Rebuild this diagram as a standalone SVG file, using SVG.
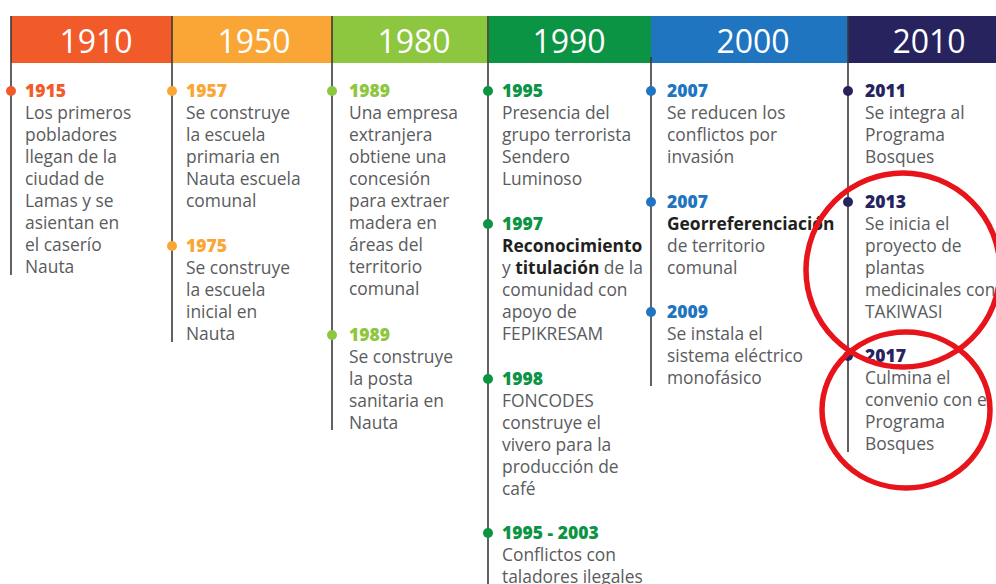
<svg xmlns="http://www.w3.org/2000/svg" width="996" height="584" viewBox="0 0 996 584">
<style>
.hd{font-family:"Open Sans","Liberation Sans",sans-serif;font-size:32px;fill:#fff;text-anchor:middle}
.yr{font-family:"Open Sans","Liberation Sans",sans-serif;font-size:17.5px;font-weight:800}
.tx{font-family:"Open Sans","Liberation Sans",sans-serif;font-size:17.4px;fill:#5a5b5d}
.b{font-weight:700;fill:#231f20}
.ln{stroke:#3a3a3a;stroke-width:1.6;fill:none}
.c1{fill:#f15a29}.c2{fill:#f9a636}.c3{fill:#8dc63f}.c4{fill:#0b9444}.c5{fill:#1f75c0}.c6{fill:#26235f}
.ring{fill:none;stroke:#e8141b;stroke-width:5.5}
</style>
<rect width="996" height="584" fill="#fff"/>
<g id="header">
<rect x="11" y="16" width="161" height="47" class="c1"/>
<rect x="172" y="16" width="160" height="47" class="c2"/>
<rect x="332" y="16" width="157" height="47" class="c3"/>
<rect x="489" y="16" width="162" height="47" class="c4"/>
<rect x="651" y="16" width="197" height="47" class="c5"/>
<rect x="848" y="16" width="148" height="47" class="c6"/>
<text class="hd" x="96" y="53">1910</text>
<text class="hd" x="254" y="53">1950</text>
<text class="hd" x="414" y="53">1980</text>
<text class="hd" x="569" y="53">1990</text>
<text class="hd" x="753" y="53">2000</text>
<text class="hd" x="929" y="53">2010</text>
</g>
<g id="connectors">
<line class="ln" x1="11" y1="16" x2="11" y2="275"/>
<line class="ln" x1="172" y1="16" x2="172" y2="342"/>
<line class="ln" x1="332" y1="16" x2="332" y2="430"/>
<line class="ln" x1="488" y1="16" x2="488" y2="584"/>
<line class="ln" x1="651" y1="57" x2="651" y2="386"/>
<line class="ln" x1="848" y1="16" x2="848" y2="452"/>
</g>
<g id="e1915">
<circle cx="11" cy="91" r="5" class="c1"/>
<text class="yr c1" x="25" y="97">1915</text>
<text class="tx" x="25" y="119">Los primeros</text>
<text class="tx" x="25" y="141">pobladores</text>
<text class="tx" x="25" y="163">llegan de la</text>
<text class="tx" x="25" y="185">ciudad de</text>
<text class="tx" x="25" y="207">Lamas y se</text>
<text class="tx" x="25" y="229">asientan en</text>
<text class="tx" x="25" y="251">el caserío</text>
<text class="tx" x="25" y="273">Nauta</text>
</g>
<g id="e1957">
<circle cx="172" cy="91" r="5" class="c2"/>
<text class="yr c2" x="186" y="97">1957</text>
<text class="tx" x="186" y="119">Se construye</text>
<text class="tx" x="186" y="141">la escuela</text>
<text class="tx" x="186" y="163">primaria en</text>
<text class="tx" x="186" y="185">Nauta escuela</text>
<text class="tx" x="186" y="207">comunal</text>
</g>
<g id="e1975">
<circle cx="172" cy="246" r="5" class="c2"/>
<text class="yr c2" x="186" y="252">1975</text>
<text class="tx" x="186" y="274">Se construye</text>
<text class="tx" x="186" y="296">la escuela</text>
<text class="tx" x="186" y="318">inicial en</text>
<text class="tx" x="186" y="340">Nauta</text>
</g>
<g id="e1989a">
<circle cx="332" cy="91" r="5" class="c3"/>
<text class="yr c3" x="349" y="97">1989</text>
<text class="tx" x="349" y="119">Una empresa</text>
<text class="tx" x="349" y="141">extranjera</text>
<text class="tx" x="349" y="163">obtiene una</text>
<text class="tx" x="349" y="185">concesión</text>
<text class="tx" x="349" y="207">para extraer</text>
<text class="tx" x="349" y="229">madera en</text>
<text class="tx" x="349" y="251">áreas del</text>
<text class="tx" x="349" y="273">territorio</text>
<text class="tx" x="349" y="295">comunal</text>
</g>
<g id="e1989b">
<circle cx="332" cy="335" r="5" class="c3"/>
<text class="yr c3" x="349" y="341">1989</text>
<text class="tx" x="349" y="363">Se construye</text>
<text class="tx" x="349" y="385">la posta</text>
<text class="tx" x="349" y="407">sanitaria en</text>
<text class="tx" x="349" y="429">Nauta</text>
</g>
<g id="e1995">
<circle cx="488" cy="91" r="5" class="c4"/>
<text class="yr c4" x="502" y="97">1995</text>
<text class="tx" x="502" y="119">Presencia del</text>
<text class="tx" x="502" y="141">grupo terrorista</text>
<text class="tx" x="502" y="163">Sendero</text>
<text class="tx" x="502" y="185">Luminoso</text>
</g>
<g id="e1997">
<circle cx="488" cy="224" r="5" class="c4"/>
<text class="yr c4" x="502" y="230">1997</text>
<text class="tx b" x="502" y="252">Reconocimiento</text>
<text class="tx" x="502" y="274">y <tspan class="b">titulación</tspan> de la</text>
<text class="tx" x="502" y="296">comunidad con</text>
<text class="tx" x="502" y="318">apoyo de</text>
<text class="tx" x="502" y="340">FEPIKRESAM</text>
</g>
<g id="e1998">
<circle cx="488" cy="379" r="5" class="c4"/>
<text class="yr c4" x="502" y="385">1998</text>
<text class="tx" x="502" y="407">FONCODES</text>
<text class="tx" x="502" y="429">construye el</text>
<text class="tx" x="502" y="451">vivero para la</text>
<text class="tx" x="502" y="473">producción de</text>
<text class="tx" x="502" y="495">café</text>
</g>
<g id="e1995-2003">
<circle cx="488" cy="533" r="5" class="c4"/>
<text class="yr c4" x="502" y="539">1995 - 2003</text>
<text class="tx" x="502" y="561">Conflictos con</text>
<text class="tx" x="502" y="583">taladores ilegales</text>
</g>
<g id="e2007a">
<circle cx="651" cy="91" r="5" class="c5"/>
<text class="yr c5" x="667" y="97">2007</text>
<text class="tx" x="667" y="119">Se reducen los</text>
<text class="tx" x="667" y="141">conflictos por</text>
<text class="tx" x="667" y="163">invasión</text>
</g>
<g id="e2007b">
<circle cx="651" cy="202" r="5" class="c5"/>
<text class="yr c5" x="667" y="208">2007</text>
<text class="tx b" x="667" y="230">Georreferenciación</text>
<text class="tx" x="667" y="252">de territorio</text>
<text class="tx" x="667" y="274">comunal</text>
</g>
<g id="e2009">
<circle cx="651" cy="312" r="5" class="c5"/>
<text class="yr c5" x="667" y="318">2009</text>
<text class="tx" x="667" y="340">Se instala el</text>
<text class="tx" x="667" y="362">sistema eléctrico</text>
<text class="tx" x="667" y="384">monofásico</text>
</g>
<g id="e2011">
<circle cx="848" cy="91" r="5" class="c6"/>
<text class="yr c6" x="865" y="97">2011</text>
<text class="tx" x="865" y="119">Se integra al</text>
<text class="tx" x="865" y="141">Programa</text>
<text class="tx" x="865" y="163">Bosques</text>
</g>
<g id="e2013">
<circle cx="848" cy="202" r="5" class="c6"/>
<text class="yr c6" x="865" y="208">2013</text>
<text class="tx" x="865" y="230">Se inicia el</text>
<text class="tx" x="865" y="252">proyecto de</text>
<text class="tx" x="865" y="274">plantas</text>
<text class="tx" x="865" y="296">medicinales con</text>
<text class="tx" x="865" y="318">TAKIWASI</text>
</g>
<g id="e2017">
<circle cx="848" cy="356" r="5" class="c6"/>
<text class="yr c6" x="865" y="362">2017</text>
<text class="tx" x="865" y="384">Culmina el</text>
<text class="tx" x="865" y="406">convenio con el</text>
<text class="tx" x="865" y="428">Programa</text>
<text class="tx" x="865" y="450">Bosques</text>
</g>
<g id="highlights">
<ellipse class="ring" cx="903" cy="270" rx="97" ry="97"/>
<ellipse class="ring" cx="906" cy="410" rx="84" ry="78"/>
</g>
</svg>
